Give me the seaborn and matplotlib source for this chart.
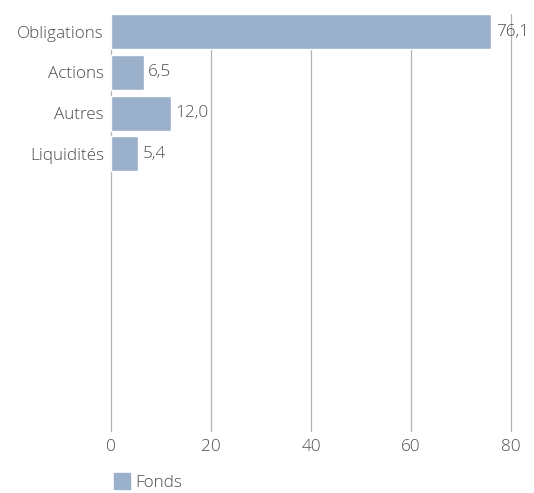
import pandas as pd
import seaborn as sns
import matplotlib.pyplot as plt
from matplotlib.patches import Patch

categories = ["Obligations", "Actions", "Autres", "Liquidités"]
values = [76.1, 6.5, 12.0, 5.4]
series = "Fonds"
xticks = [0, 20, 40, 60, 80]

df = pd.DataFrame({"cat": categories, "val": values})

sns.set_theme(style="white")
plt.rcParams["font.family"] = ["Open Sans", "DejaVu Sans"]
plt.rcParams["font.weight"] = "light"

bar_color = "#9bb0cb"
text_color = "#4d4d4d"
fs = 12.3

fig = plt.figure(figsize=(5.34, 4.93), dpi=100)
ax = fig.add_axes([0.2079, 0.1258, 0.749, 0.8458])

sns.barplot(data=df, x="val", y="cat", orient="h", color=bar_color,
            width=0.86, saturation=1, ax=ax)

# valeurs à droite des barres, virgule décimale
for i, v in enumerate(values):
    ax.text(v + 0.9, i, f"{v:.1f}".replace(".", ","), va="center", ha="left",
            fontsize=fs, color=text_color, fontweight="light")

ax.set_xlim(0, 80)
ax.set_ylim(9.79, -0.43)
ax.set_xticks(xticks)
ax.set_xticklabels([str(t) for t in xticks])
ax.grid(axis="x", color="#b3b3b3", linewidth=0.9)
ax.grid(axis="y", visible=False)
for gl in ax.get_xgridlines():
    gl.set_clip_on(False)
ax.set_axisbelow(True)
for s in ax.spines.values():
    s.set_visible(False)
ax.tick_params(axis="both", length=0, labelsize=fs, labelcolor=text_color)
ax.tick_params(axis="x", pad=6)
ax.tick_params(axis="y", pad=5)
ax.set_xlabel("")
ax.set_ylabel("")

ax.legend(handles=[Patch(color=bar_color, label=series)], loc="upper left",
          bbox_to_anchor=(-0.03, -0.065), frameon=False, fontsize=fs,
          handlelength=0.9, handleheight=1.0, handletextpad=0.3,
          labelcolor=text_color)

fig.savefig("out.png", dpi=100)
